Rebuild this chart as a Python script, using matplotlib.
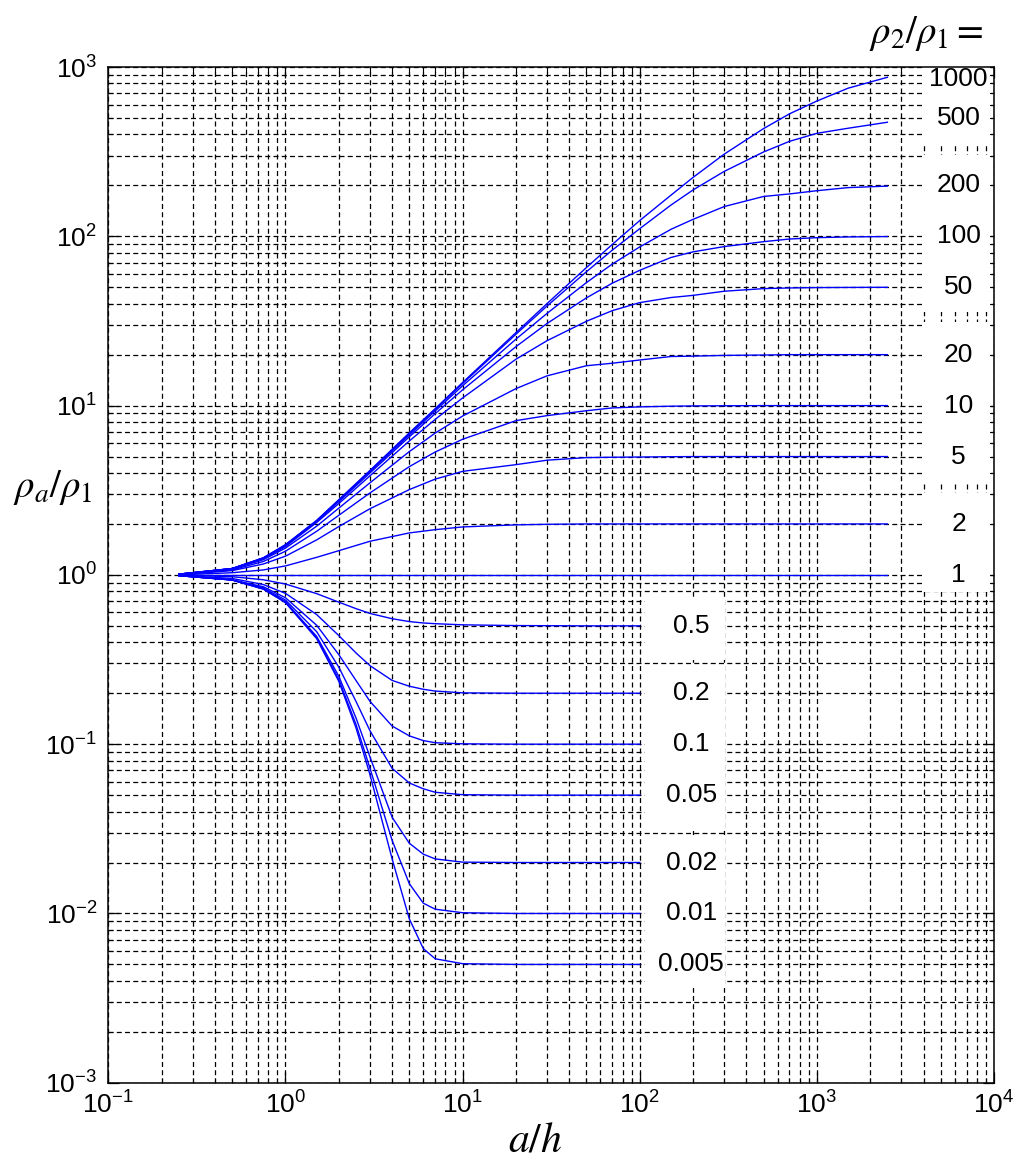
import numpy as np
import matplotlib
matplotlib.use("Agg")
import matplotlib.pyplot as plt
from matplotlib.patches import Rectangle
from matplotlib.ticker import LogLocator, NullFormatter

plt.rcParams['font.family'] = ['Liberation Sans', 'DejaVu Sans']
plt.rcParams['mathtext.fontset'] = 'stix'

# a/h sample points
x_up = [0.25, 0.5, 0.75, 1, 1.5, 2, 3, 5, 7, 10, 20, 30, 50, 70, 100, 150, 200, 300, 500, 700, 1000, 1500, 2500]
x_lo = [0.25, 0.5, 0.75, 1, 1.5, 2, 2.5, 3, 4, 5, 6, 7, 10, 20, 50, 100]

# rho_a/rho_1 for rho_2/rho_1 >= 1
r1000 = [1.01, 1.09, 1.26, 1.51, 2.10, 2.78, 4.14, 6.90, 9.6, 13.7, 27.0, 40.1, 65.4, 89.6, 124, 175, 223, 306, 433, 529, 630, 750, 870]
r500 = [1.01, 1.09, 1.26, 1.50, 2.09, 2.77, 4.12, 6.84, 9.5, 13.5, 26.4, 38.8, 61.8, 82.9, 111, 153, 188, 242, 315, 364, 406, 435, 472]
r200 = [1.01, 1.09, 1.26, 1.50, 2.08, 2.75, 4.08, 6.71, 9.3, 13.1, 24.7, 35.1, 53.3, 68.6, 86.6, 110, 126, 150, 172, 178, 186, 194, 198]
r100 = [1.01, 1.09, 1.25, 1.49, 2.07, 2.71, 4.00, 6.54, 8.96, 12.4, 22.3, 30.6, 43.3, 52.9, 63, 75, 81, 87, 93, 96.4, 98.2, 99.2, 99.7]
r50 = [1.01, 1.09, 1.25, 1.47, 2.04, 2.64, 3.85, 6.18, 8.29, 11.1, 18.8, 24.2, 31.5, 36.4, 40.6, 43.5, 44.8, 47.4, 49.1, 49.55, 49.8, 49.9, 50]
r20 = [1.01, 1.08, 1.23, 1.44, 1.94, 2.48, 3.50, 5.35, 6.88, 8.68, 12.6, 15.0, 17.2, 17.8, 18.6, 19.5, 19.6, 19.8, 19.9, 20, 20, 20, 20]
r10 = [1.01, 1.07, 1.20, 1.38, 1.81, 2.25, 3.05, 4.36, 5.32, 6.33, 8.15, 8.73, 9.33, 9.69, 9.83, 9.92, 9.96, 9.98, 10, 10, 10, 10, 10]
r5 = [1.00, 1.06, 1.16, 1.29, 1.61, 1.93, 2.46, 3.19, 3.68, 4.09, 4.48, 4.76, 4.93, 4.955, 4.97, 4.99, 5, 5, 5, 5, 5, 5, 5]
r2 = [1.00, 1.03, 1.07, 1.13, 1.27, 1.39, 1.58, 1.77, 1.85, 1.92, 1.975, 1.99, 2.0, 2, 2, 2, 2, 2, 2, 2, 2, 2, 2]
r1 = [1] * len(x_up)

# rho_2/rho_1 < 1
r05 = [0.997, 0.976, 0.936, 0.883, 0.775, 0.690, 0.632, 0.592, 0.551, 0.530, 0.520, 0.515, 0.507, 0.502, 0.5, 0.5]
r02 = [0.993, 0.953, 0.877, 0.778, 0.583, 0.438, 0.346, 0.291, 0.238, 0.220, 0.211, 0.206, 0.201, 0.2, 0.2, 0.2]
r01 = [0.99, 0.936, 0.851, 0.733, 0.504, 0.338, 0.238, 0.179, 0.128, 0.112, 0.105, 0.102, 0.1005, 0.1, 0.1, 0.1]
r005 = [0.99, 0.934, 0.838, 0.710, 0.462, 0.285, 0.179, 0.120, 0.072, 0.059, 0.0545, 0.052, 0.0503, 0.05, 0.05, 0.05]
r002 = [0.99, 0.933, 0.829, 0.694, 0.433, 0.252, 0.143, 0.084, 0.037, 0.026, 0.0224, 0.021, 0.0201, 0.02, 0.02, 0.02]
r001 = [0.99, 0.933, 0.826, 0.688, 0.425, 0.241, 0.131, 0.072, 0.027, 0.015, 0.0115, 0.0106, 0.0101, 0.01, 0.01, 0.01]
r0005 = [0.99, 0.933, 0.824, 0.686, 0.420, 0.235, 0.125, 0.066, 0.021, 0.0093, 0.0062, 0.0054, 0.00505, 0.005, 0.005, 0.005]

up_curves = [r1000, r500, r200, r100, r50, r20, r10, r5, r2, r1]
lo_curves = [r05, r02, r01, r005, r002, r001, r0005]

up_labels = ['1000', '500', '200', '100', '50', '20', '10', '5', '2', '1']
up_label_y = [850, 500, 200, 100, 50, 20, 10, 5, 2, 1]
lo_labels = ['0.5', '0.2', '0.1', '0.05', '0.02', '0.01', '0.005']
lo_label_y = [0.5, 0.2, 0.1, 0.05, 0.02, 0.01, 0.005]

fig = plt.figure(figsize=(10.25, 11.64), dpi=100)
ax = fig.add_axes([0.1057, 0.0698, 0.8641, 0.8726])
ax.set_xscale('log')
ax.set_yscale('log')
ax.set_xlim(0.1, 1e4)
ax.set_ylim(1e-3, 1e3)

for axis in (ax.xaxis, ax.yaxis):
    axis.set_major_locator(LogLocator(base=10))
    axis.set_minor_locator(LogLocator(base=10, subs=np.arange(2, 10)))
    axis.set_minor_formatter(NullFormatter())

ax.set_axisbelow(True)
ax.grid(True, which='both', color='k', linestyle=(0, (4, 2.6)), linewidth=0.9)
ax.tick_params(which='both', direction='in', top=True, right=True, colors='k')
ax.tick_params(which='major', length=8, width=0.9, labelsize=19)
ax.tick_params(axis='x', which='major', pad=6)
ax.tick_params(axis='y', which='major', pad=8)
ax.tick_params(which='minor', length=3.5, width=0.8)
for s in ax.spines.values():
    s.set_linewidth(1.1)

for yv in up_curves:
    ax.plot(x_up, yv, color='#0000ff', lw=1.0, zorder=3)
for yv in lo_curves:
    ax.plot(x_lo, yv, color='#0000ff', lw=1.0, zorder=3)

# white boxes behind the curve labels
up_boxes = [(1000, 341), (302, 35.7), (31.2, 3.44), (3.05, 0.79)]
for top, bot in up_boxes:
    ax.add_patch(Rectangle((3940, bot), 9530 - 3940, top - bot, facecolor='white',
                           edgecolor='none', zorder=1))
lo_boxes = [(0.74, 0.314), (0.294, 0.0311), (0.0291, 0.00363)]
for top, bot in lo_boxes:
    ax.add_patch(Rectangle((107, bot), 303 - 107, top - bot, facecolor='white',
                           edgecolor='none', zorder=1))

for lab, yv in zip(up_labels, up_label_y):
    ax.text(6300, yv, lab, ha='center', va='center', fontsize=19, zorder=4)
for lab, yv in zip(lo_labels, lo_label_y):
    ax.text(195, yv, lab, ha='center', va='center', fontsize=19, zorder=4)

ax.text(-0.108, 0.5865, r'$\rho_a/\rho_1$', transform=ax.transAxes,
        ha='left', va='center', fontsize=28)
ax.text(0.924, 1.0335, r'$\rho_2/\rho_1 =$', transform=ax.transAxes,
        ha='center', va='center', fontsize=28)
ax.text(0.4816, -0.0564, r'$a/h$', transform=ax.transAxes,
        ha='center', va='center', fontsize=30)

fig.savefig('out.png', dpi=100)
